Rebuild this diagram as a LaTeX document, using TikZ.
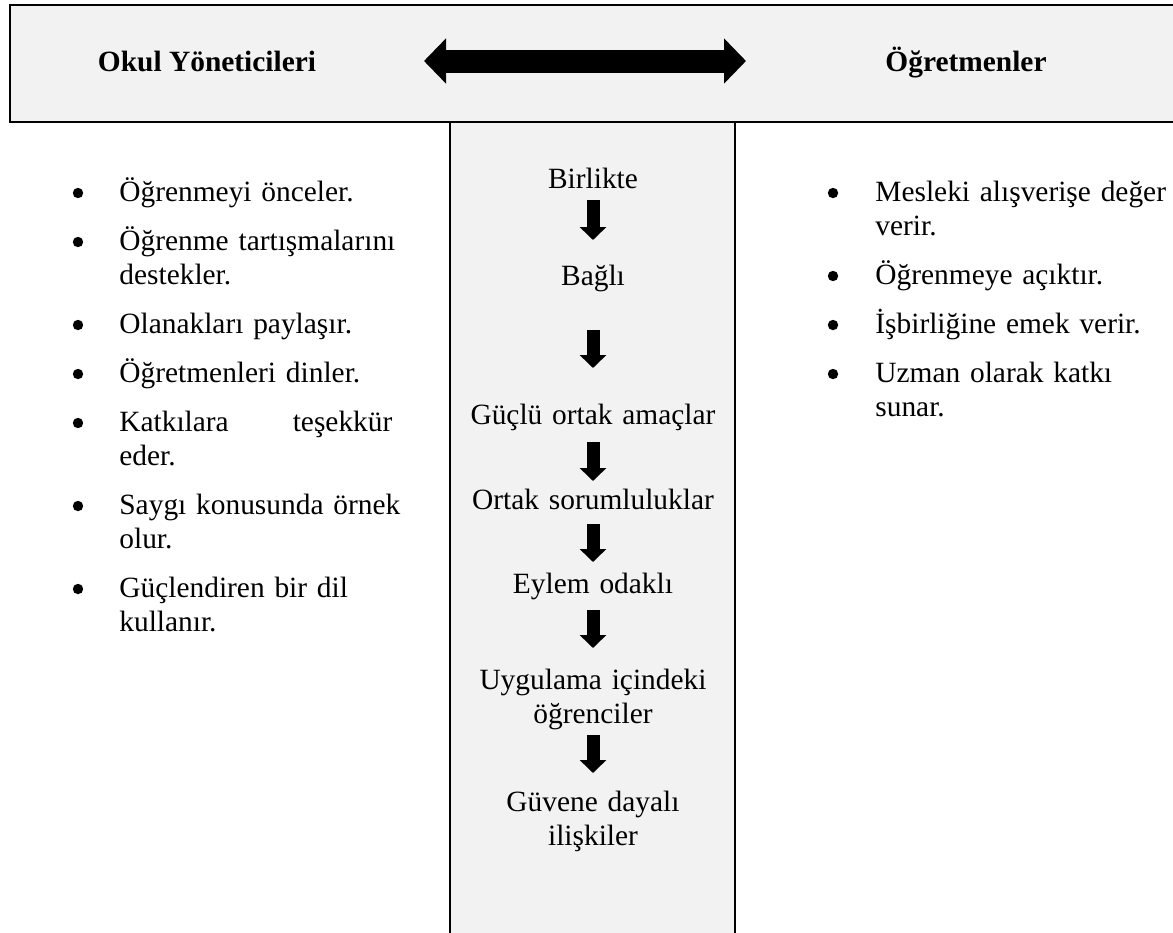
\documentclass[tikz,border=0pt]{standalone}
\usepackage{fontspec}
\setmainfont{Liberation Serif}
\usetikzlibrary{arrows.meta}
\definecolor{boxgray}{HTML}{F2F2F2}

\begin{document}
\begin{tikzpicture}[x=0.5pt,y=-0.5pt,
  txt/.style={font=\fontsize{14.7pt}{17.2pt}\selectfont, inner sep=0pt},
  hdr/.style={txt, font=\fontsize{14.7pt}{17.2pt}\selectfont\bfseries, anchor=base},
  blt/.style={circle, fill=black, inner sep=0pt, minimum size=5.2pt},
  litem/.style={txt, anchor=base west, text width=155pt, align=left},
  ritem/.style={txt, anchor=base west, text width=160pt, align=left},
  citem/.style={txt, anchor=base, text width=138pt, align=center},
  downarr/.style={line width=6.5pt, -{Triangle[width=13pt,length=6.5pt]}},
  bigarr/.style={line width=11.5pt, {Triangle[width=22pt,length=11pt]}-{Triangle[width=22pt,length=11pt]}}]
  \useasboundingbox (0,0) rectangle (1173,932);
  \clip (0,0) rectangle (1173,932);
  % Define the boxes
  \draw[line width=0.8pt, fill=boxgray] (450,122) rectangle (735,945);
  \draw[line width=1pt, fill=boxgray] (10,5) rectangle (1190,122);
  % Header
  \path (207,71) node[hdr] (okul) {Okul Yöneticileri};
  \path (966,71) node[hdr] (ogretmen) {Öğretmenler};
  \coordinate (arrL) at (424,61);
  \coordinate (arrR) at (746,61);
  \draw[bigarr] (arrL) -- (arrR);
  % Left list
  \path (78,193) node[blt] (lb1) {};
  \path (78,242) node[blt] (lb2) {};
  \path (78,325) node[blt] (lb3) {};
  \path (78,374) node[blt] (lb4) {};
  \path (78,423) node[blt] (lb5) {};
  \path (78,506) node[blt] (lb6) {};
  \path (78,589) node[blt] (lb7) {};
  \path (119,201) node[litem] (l1) {Öğrenmeyi önceler.};
  \path (119,250) node[litem] (l2) {Öğrenme tartışmalarını\\destekler.};
  \path (119,333) node[litem] (l3) {Olanakları paylaşır.};
  \path (119,382) node[litem] (l4) {Öğretmenleri dinler.};
  \path (119,431) node[litem] (l5) {\makebox[136.5pt]{Katkılara\hfill teşekkür}\\eder.};
  \path (119,514) node[litem] (l6) {Saygı konusunda örnek\\olur.};
  \path (119,597) node[litem] (l7) {Güçlendiren bir dil\\kullanır.};
  % Right list
  \path (833,193) node[blt] (rb1) {};
  \path (833,276) node[blt] (rb2) {};
  \path (833,325) node[blt] (rb3) {};
  \path (833,374) node[blt] (rb4) {};
  \path (875,201) node[ritem] (r1) {Mesleki alışverişe değer\\verir.};
  \path (875,284) node[ritem] (r2) {Öğrenmeye açıktır.};
  \path (875,333) node[ritem] (r3) {İşbirliğine emek verir.};
  \path (875,382) node[ritem] (r4) {Uzman olarak katkı\\sunar.};
  % Middle column
  \path (593,188) node[citem] (birlikte) {Birlikte};
  \path (593,285) node[citem] (bagli) {Bağlı};
  \path (593,424) node[citem] (amac) {Güçlü ortak amaçlar};
  \path (593,509) node[citem] (sorum) {Ortak sorumluluklar};
  \path (593,593) node[citem] (eylem) {Eylem odaklı};
  \path (593,689) node[citem] (ogrenci) {Uygulama içindeki\\öğrenciler};
  \path (593,811) node[citem] (guven) {Güvene dayalı\\ilişkiler};
  \coordinate (d1a) at (593,200); \coordinate (d1b) at (593,240);
  \coordinate (d2a) at (593,330); \coordinate (d2b) at (593,368);
  \coordinate (d3a) at (593,442); \coordinate (d3b) at (593,481);
  \coordinate (d4a) at (593,524); \coordinate (d4b) at (593,562);
  \coordinate (d5a) at (593,610); \coordinate (d5b) at (593,648);
  \coordinate (d6a) at (593,735); \coordinate (d6b) at (593,773);
  \draw[downarr] (d1a) -- (d1b);
  \draw[downarr] (d2a) -- (d2b);
  \draw[downarr] (d3a) -- (d3b);
  \draw[downarr] (d4a) -- (d4b);
  \draw[downarr] (d5a) -- (d5b);
  \draw[downarr] (d6a) -- (d6b);
\end{tikzpicture}
\end{document}
